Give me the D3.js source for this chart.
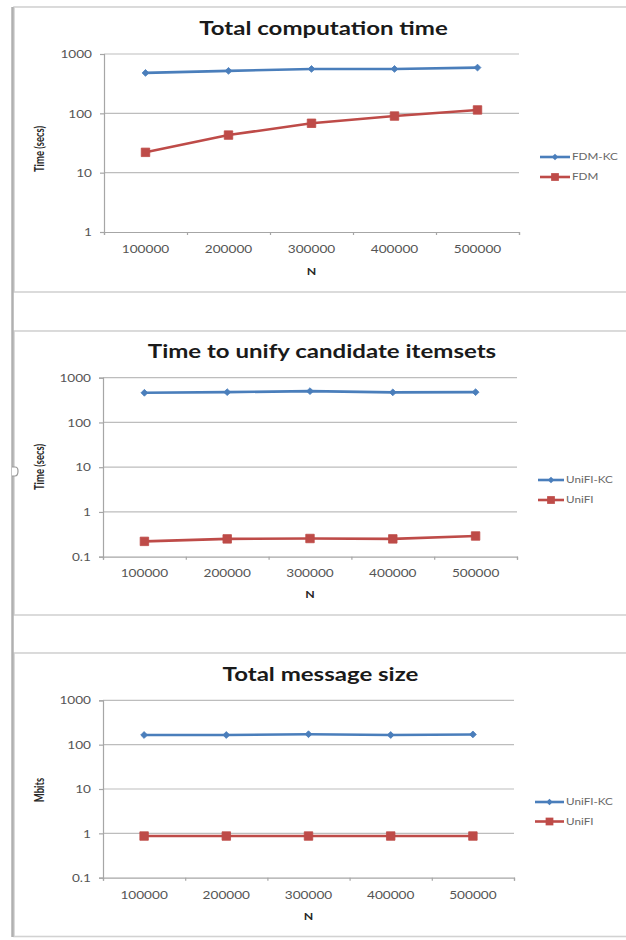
<!DOCTYPE html>
<html>
<head>
<meta charset="utf-8">
<script src="https://cdn.jsdelivr.net/npm/d3@7"></script>
<style>
  html, body { margin: 0; padding: 0; background: #fff; }
  svg { display: block; }
</style>
</head>
<body>
<svg id="chart" width="626" height="940"></svg>
<script>
// ---------------- data ----------------
const categories = ["100000", "200000", "300000", "400000", "500000"];

const titles = ["Total computation time", "Time to unify candidate itemsets", "Total message size"];
const yLabels = ["Time (secs)", "Time (secs)", "Mbits"];
const xLabel = "N";

const seriesNames1 = ["FDM-KC", "FDM"];
const fdmKC = [480, 520, 560, 560, 590];
const fdm = [22, 43, 68, 90, 114];

const seriesNames2 = ["UniFI-KC", "UniFI"];
const unifiKCTime = [460, 475, 500, 470, 475];
const unifiTime = [0.22, 0.25, 0.255, 0.25, 0.29];

const seriesNames3 = ["UniFI-KC", "UniFI"];
const unifiKCMsg = [165, 165, 172, 165, 170];
const unifiMsg = [0.87, 0.87, 0.87, 0.87, 0.87];

const yTicks1 = [1, 10, 100, 1000];
const yTicks2 = [0.1, 1, 10, 100, 1000];
const yTicks3 = [0.1, 1, 10, 100, 1000];

// ---------------- layout / style ----------------
const BLUE = "#4a7ebb", RED = "#be4b48";
const GRID = "#bdbdbd", AXIS = "#a6a6a6", TXT = "#555555";
const STRETCH = 1.3;  // the reference picture is horizontally stretched
const FONT = "Lato, 'DejaVu Sans', sans-serif";

const panels = [
  { title: titles[0], yLabel: yLabels[0], names: seriesNames1, values: [fdmKC, fdm], ticks: yTicks1,
    box: [7, 292], plot: { l: 104, r: 519, t: 54, b: 232 }, titleY: 29,
    legend: { x1: 540, x2: 570, ys: [157, 177] }, xLabY: 249, nY: 272, yLabCx: 40, yLabCy: 149 },
  { title: titles[1], yLabel: yLabels[1], names: seriesNames2, values: [unifiKCTime, unifiTime], ticks: yTicks2,
    box: [331, 615], plot: { l: 103, r: 517, t: 377.7, b: 556.7 }, titleY: 352,
    legend: { x1: 538, x2: 564, ys: [480, 500] }, xLabY: 573, nY: 595, yLabCx: 40, yLabCy: 467 },
  { title: titles[2], yLabel: yLabels[2], names: seriesNames3, values: [unifiKCMsg, unifiMsg], ticks: yTicks3,
    box: [653, 936.5], plot: { l: 103, r: 514, t: 700.3, b: 877.7 }, titleY: 675,
    legend: { x1: 535, x2: 564, ys: [802, 821.5] }, xLabY: 895, nY: 917, yLabCx: 40, yLabCy: 790 }
];

const svg = d3.select("#chart");
svg.append("rect").attr("x", 0).attr("y", 0).attr("width", 626).attr("height", 940).attr("fill", "#fff");

panels.forEach(p => {
  const g = svg.append("g");
  // chart box
  g.append("rect")
    .attr("x", 14).attr("y", p.box[0])
    .attr("width", 700).attr("height", p.box[1] - p.box[0])
    .attr("fill", "#fff").attr("stroke", "#d2d2d2").attr("stroke-width", 1.6);

  const x = d3.scalePoint().domain(categories).range([p.plot.l, p.plot.r]).padding(0.5);
  const xb = d3.scaleLinear().domain([0, categories.length]).range([p.plot.l, p.plot.r]);
  const y = d3.scaleLog().domain([p.ticks[0], p.ticks[p.ticks.length - 1]]).range([p.plot.b, p.plot.t]);

  // gridlines
  g.append("g").selectAll("line").data(p.ticks.slice(1)).join("line")
    .attr("x1", p.plot.l).attr("x2", p.plot.r)
    .attr("y1", d => y(d)).attr("y2", d => y(d))
    .attr("stroke", GRID).attr("stroke-width", 1.2);

  // left axis
  const ya = g.append("g").attr("transform", `translate(${p.plot.l},0)`)
    .call(d3.axisLeft(y).tickValues(p.ticks).tickFormat(d => String(d)).tickSize(4).tickPadding(0));
  ya.select(".domain").attr("stroke", AXIS).attr("stroke-width", 1.2);
  ya.selectAll(".tick line").attr("stroke", AXIS).attr("stroke-width", 1.2);
  ya.selectAll(".tick text")
    .attr("x", 0).attr("dy", "0.35em")
    .attr("transform", `translate(-12,0) scale(${STRETCH},1)`)
    .attr("fill", TXT).style("font-family", FONT).style("font-size", "10.5px");

  // bottom axis: boundary ticks
  const xa = g.append("g").attr("transform", `translate(0,${p.plot.b})`)
    .call(d3.axisBottom(xb).tickValues(d3.range(categories.length + 1)).tickFormat("").tickSize(3));
  xa.select(".domain").attr("stroke", AXIS).attr("stroke-width", 1.2);
  xa.selectAll(".tick line").attr("stroke", AXIS).attr("stroke-width", 1.2);

  // category labels
  g.append("g").selectAll("text").data(categories).join("text")
    .attr("transform", d => `translate(${x(d)},${p.xLabY}) scale(${STRETCH},1)`)
    .attr("text-anchor", "middle").attr("dy", "0.35em")
    .attr("fill", TXT).style("font-family", FONT).style("font-size", "10.5px")
    .text(d => d);

  // axis titles
  g.append("text")
    .attr("transform", `translate(${(p.plot.l + p.plot.r) / 2},${p.nY}) scale(${STRETCH},1)`)
    .attr("text-anchor", "middle").attr("dy", "0.35em")
    .attr("fill", "#262626").style("font-family", FONT).style("font-weight", "bold").style("font-size", "9.5px")
    .text(xLabel);
  g.append("text")
    .attr("transform", `translate(${p.yLabCx},${p.yLabCy}) rotate(-90) scale(1,${STRETCH})`)
    .attr("text-anchor", "middle").attr("dy", "0.35em")
    .attr("fill", "#262626").style("font-family", FONT).style("font-weight", "bold").style("font-size", "9.5px")
    .text(p.yLabel);

  // title
  g.append("text")
    .attr("transform", `translate(${(p.plot.l + p.plot.r) / 2 + 12},${p.titleY}) scale(${STRETCH},1)`)
    .attr("text-anchor", "middle").attr("dy", "0.35em")
    .attr("fill", "#1a1a1a").style("font-family", FONT).style("font-weight", "bold").style("font-size", "18.5px")
    .text(p.title);

  // series
  const colors = [BLUE, RED];
  const line = d3.line().x((d, i) => x(categories[i])).y(d => y(d));
  p.values.forEach((vals, si) => {
    g.append("path").datum(vals)
      .attr("d", line).attr("fill", "none")
      .attr("stroke", colors[si]).attr("stroke-width", 2.6).attr("stroke-linejoin", "round");
    const sym = si === 0 ? d3.symbolDiamond2 : d3.symbolSquare;
    const size = si === 0 ? 30 : 72;
    g.append("g").selectAll("path").data(vals).join("path")
      .attr("transform", (d, i) => `translate(${x(categories[i])},${y(d)})`)
      .attr("d", d3.symbol().type(sym).size(size))
      .attr("fill", colors[si]).attr("stroke", colors[si]).attr("stroke-width", 0.8);
  });

  // legend
  p.names.forEach((name, si) => {
    const ly = p.legend.ys[si];
    g.append("line").attr("x1", p.legend.x1).attr("x2", p.legend.x2).attr("y1", ly).attr("y2", ly)
      .attr("stroke", colors[si]).attr("stroke-width", 2.6);
    g.append("path")
      .attr("transform", `translate(${(p.legend.x1 + p.legend.x2) / 2},${ly})`)
      .attr("d", d3.symbol().type(si === 0 ? d3.symbolDiamond2 : d3.symbolSquare).size(si === 0 ? 26 : 60))
      .attr("fill", colors[si]);
    g.append("text")
      .attr("transform", `translate(${p.legend.x2 + 2},${ly}) scale(${STRETCH},1)`)
      .attr("dy", "0.35em")
      .attr("fill", "#666666").style("font-family", FONT).style("font-size", "9px")
      .text(name);
  });
});

// outer left frame line and small handle
svg.append("line").attr("x1", 12.5).attr("x2", 12.5).attr("y1", 7).attr("y2", 937)
  .attr("stroke", "#b0b0b0").attr("stroke-width", 2.5);
svg.append("path")
  .attr("d", "M12,467 L15,467 Q18,467 18,471 Q18,476 15,476 L12,476")
  .attr("fill", "#fff").attr("stroke", "#9a9a9a").attr("stroke-width", 1.2);
</script>
</body>
</html>
